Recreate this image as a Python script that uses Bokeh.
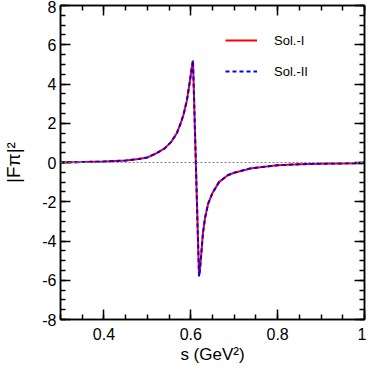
import numpy as np
from bokeh.plotting import figure
from bokeh.models import (LinearAxis, FixedTicker, Range1d, Span, Legend,
                          LegendItem, CustomLabelingPolicy)
from bokeh.embed import file_html
from bokeh.resources import INLINE

# ---- data ----
s_vals = [0.30, 0.35, 0.40, 0.45, 0.48, 0.50, 0.52, 0.54, 0.555, 0.568,
          0.576, 0.583, 0.591, 0.598, 0.602, 0.605, 0.607, 0.610, 0.613,
          0.616, 0.619, 0.621, 0.624, 0.628, 0.633, 0.640, 0.650, 0.665,
          0.685, 0.700, 0.740, 0.800, 0.850, 0.900, 0.950, 1.000]
sol1 = [0.00, 0.02, 0.05, 0.10, 0.18, 0.26, 0.46, 0.72, 1.05, 1.50,
        1.95, 2.42, 3.16, 4.15, 4.80, 5.20, 3.70, 1.30, -1.10,
        -3.50, -5.80, -5.50, -4.70, -3.60, -2.80, -2.10, -1.55, -1.00,
        -0.65, -0.52, -0.29, -0.14, -0.09, -0.06, -0.045, -0.035]
sol2 = [0.00, 0.02, 0.05, 0.10, 0.18, 0.26, 0.46, 0.72, 1.05, 1.50,
        1.95, 2.42, 3.16, 4.15, 4.80, 5.20, 3.70, 1.30, -1.10,
        -3.50, -5.80, -5.50, -4.70, -3.60, -2.80, -2.10, -1.55, -1.00,
        -0.65, -0.52, -0.29, -0.14, -0.09, -0.06, -0.045, -0.035]
series_names = ["Sol.-I", "Sol.-II"]

x_ticks = [0.4, 0.6, 0.8, 1.0]
x_tick_labels = ["0.4", "0.6", "0.8", "1"]
x_minor = [0.30, 0.35, 0.40, 0.45, 0.50, 0.55, 0.60, 0.65, 0.70, 0.75,
           0.80, 0.85, 0.90, 0.95, 1.00]
y_ticks = [-8, -6, -4, -2, 0, 2, 4, 6, 8]
y_tick_labels = ["-8", "-6", "-4", "-2", "0", "2", "4", "6", "8"]
y_minor = [v / 2 for v in range(-16, 17)]

FONT = "Liberation Sans"

p = figure(width=366, height=366, output_backend="svg", toolbar_location=None,
           x_range=Range1d(0.3, 1.0), y_range=Range1d(-8, 8),
           min_border_left=60, min_border_right=2, min_border_top=5,
           min_border_bottom=41)
p.grid.visible = False
p.outline_line_color = "black"
p.outline_line_width = 1.5
p.background_fill_color = "white"
p.border_fill_color = "white"

xt = FixedTicker(ticks=x_ticks, minor_ticks=x_minor)
yt = FixedTicker(ticks=y_ticks, minor_ticks=y_minor)

hide_labels = CustomLabelingPolicy(code="""
try {
  const on = [];
  for (const i of indices) on.push(i);
  for (const i of on) indices.unset(i);
} catch (e) {}
return indices;
""")


def style(ax, labels):
    ax.axis_line_width = 1.5
    ax.axis_line_color = "black"
    ax.major_tick_in = 10
    ax.major_tick_out = 0
    ax.minor_tick_in = 5
    ax.minor_tick_out = 0
    ax.major_tick_line_width = 1.5
    ax.minor_tick_line_width = 1.5
    ax.major_tick_line_color = "black"
    ax.minor_tick_line_color = "black"
    if labels:
        ax.major_label_text_font = FONT
        ax.major_label_text_font_size = "16px"
        ax.major_label_text_color = "black"
    else:
        ax.major_label_policy = hide_labels
        ax.major_label_text_font_size = "0px"
        ax.major_label_standoff = 0


bx = p.xaxis[0]
bx.ticker = xt
bx.major_label_overrides = {t: l for t, l in zip(x_ticks, x_tick_labels)}
style(bx, True)
bx.major_label_standoff = 8
bx.axis_label = "s (GeV²)"
bx.axis_label_text_font = FONT
bx.axis_label_text_font_size = "17px"
bx.axis_label_text_font_style = "normal"
bx.axis_label_text_color = "black"
bx.axis_label_standoff = 2

ly = p.yaxis[0]
ly.ticker = yt
ly.major_label_overrides = {t: l for t, l in zip(y_ticks, y_tick_labels)}
style(ly, True)
ly.major_label_standoff = 4
ly.axis_label = "|Fπ|²"
ly.axis_label_text_font = FONT
ly.axis_label_text_font_size = "19px"
ly.axis_label_text_font_style = "normal"
ly.axis_label_text_color = "black"
ly.axis_label_standoff = 15

top = LinearAxis(ticker=xt)
style(top, False)
p.add_layout(top, "above")
right = LinearAxis(ticker=yt)
style(right, False)
p.add_layout(right, "right")

p.add_layout(Span(location=0, dimension="width", line_color="#808080",
                  line_dash="2 2", line_width=1.2))

r1 = p.line(s_vals, sol1, line_color="#ff0000", line_width=2)
r2 = p.line(s_vals, sol2, line_color="#0000ff", line_width=2,
            line_dash="4 3")

legend = Legend(items=[LegendItem(label=series_names[0], renderers=[r1]),
                       LegendItem(label=series_names[1], renderers=[r2])],
                location=(165, 238), padding=0, margin=0, spacing=11,
                glyph_height=20, glyph_width=32, label_height=20,
                label_standoff=17, border_line_alpha=0,
                background_fill_alpha=0, label_text_font=FONT,
                label_text_font_size="13px", label_text_color="black")
p.add_layout(legend)

open("out.html", "w").write(file_html(p, INLINE))
